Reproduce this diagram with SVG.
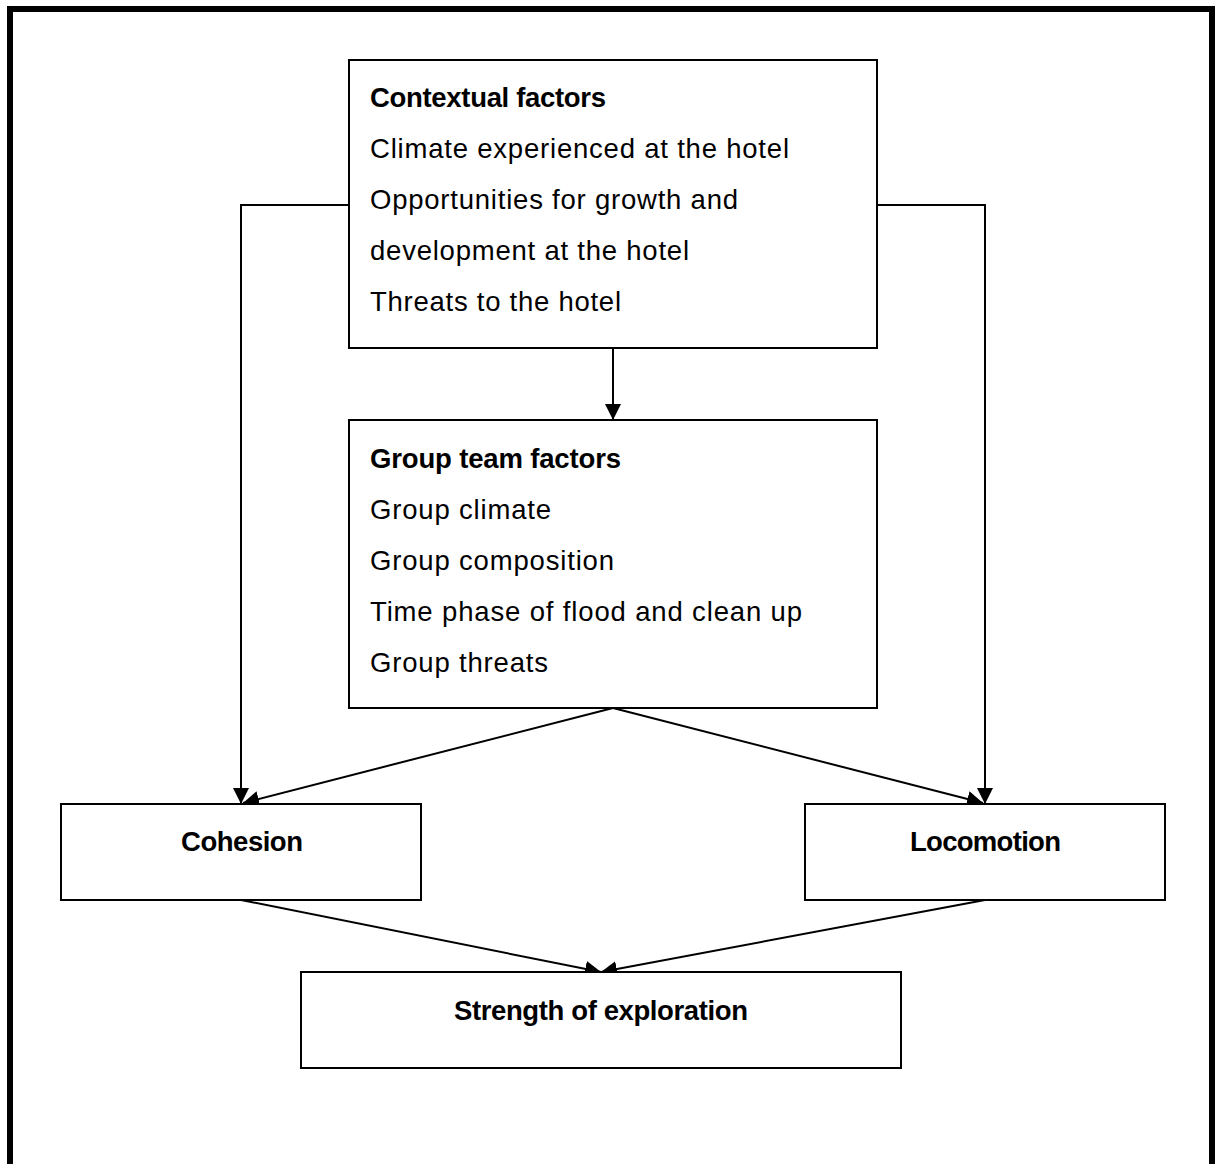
<svg xmlns="http://www.w3.org/2000/svg" width="1216" height="1164" viewBox="0 0 1216 1164">
  <style>
    .box { fill: #fff; stroke: #000; stroke-width: 2; }
    .txt { font-family: "Liberation Sans", Arial, sans-serif; font-size: 27.5px; fill: #000; }
    .b { font-weight: bold; }
    .wire { fill: none; stroke: #000; stroke-width: 2; }
  </style>
  <defs>
    <marker id="arrow" viewBox="0 0 16 16" refX="16" refY="8" markerWidth="16" markerHeight="16" markerUnits="userSpaceOnUse" orient="auto">
      <path d="M0,0 L16,8 L0,16 Z" fill="#000"/>
    </marker>
  </defs>

  <rect width="1216" height="1164" fill="#fff"/>
  <!-- page frame -->
  <rect x="10" y="9" width="1202" height="1180" fill="none" stroke="#000" stroke-width="6"/>

  <g id="connectors">
    <polyline class="wire" points="349,205 241,205 241,804" marker-end="url(#arrow)"/>
    <polyline class="wire" points="877,205 985,205 985,804" marker-end="url(#arrow)"/>
    <line class="wire" x1="613" y1="348" x2="613" y2="420" marker-end="url(#arrow)"/>
    <line class="wire" x1="613" y1="708" x2="243" y2="803" marker-end="url(#arrow)"/>
    <line class="wire" x1="613" y1="708" x2="983" y2="803" marker-end="url(#arrow)"/>
    <line class="wire" x1="241" y1="900" x2="601" y2="972" marker-end="url(#arrow)"/>
    <line class="wire" x1="985" y1="900" x2="601" y2="972" marker-end="url(#arrow)"/>
  </g>

  <g id="contextual-factors">
    <rect class="box" x="349" y="60" width="528" height="288"/>
    <text class="txt b" x="370" y="107" textLength="236" lengthAdjust="spacing">Contextual factors</text>
    <text class="txt" x="370" y="158" textLength="419" lengthAdjust="spacing">Climate experienced at the hotel</text>
    <text class="txt" x="370" y="209" textLength="368" lengthAdjust="spacing">Opportunities for growth and</text>
    <text class="txt" x="370" y="260" textLength="319" lengthAdjust="spacing">development at the hotel</text>
    <text class="txt" x="370" y="311" textLength="251" lengthAdjust="spacing">Threats to the hotel</text>
  </g>

  <g id="group-team-factors">
    <rect class="box" x="349" y="420" width="528" height="288"/>
    <text class="txt b" x="370" y="468" textLength="251" lengthAdjust="spacing">Group team factors</text>
    <text class="txt" x="370" y="519" textLength="181" lengthAdjust="spacing">Group climate</text>
    <text class="txt" x="370" y="570" textLength="244" lengthAdjust="spacing">Group composition</text>
    <text class="txt" x="370" y="621" textLength="432" lengthAdjust="spacing">Time phase of flood and clean up</text>
    <text class="txt" x="370" y="672" textLength="178" lengthAdjust="spacing">Group threats</text>
  </g>

  <g id="cohesion">
    <rect class="box" x="61" y="804" width="360" height="96"/>
    <text class="txt b" x="181" y="851" textLength="122" lengthAdjust="spacing">Cohesion</text>
  </g>

  <g id="locomotion">
    <rect class="box" x="805" y="804" width="360" height="96"/>
    <text class="txt b" x="910" y="851" textLength="151" lengthAdjust="spacing">Locomotion</text>
  </g>

  <g id="strength-of-exploration">
    <rect class="box" x="301" y="972" width="600" height="96"/>
    <text class="txt b" x="454" y="1020" textLength="294" lengthAdjust="spacing">Strength of exploration</text>
  </g>
</svg>
